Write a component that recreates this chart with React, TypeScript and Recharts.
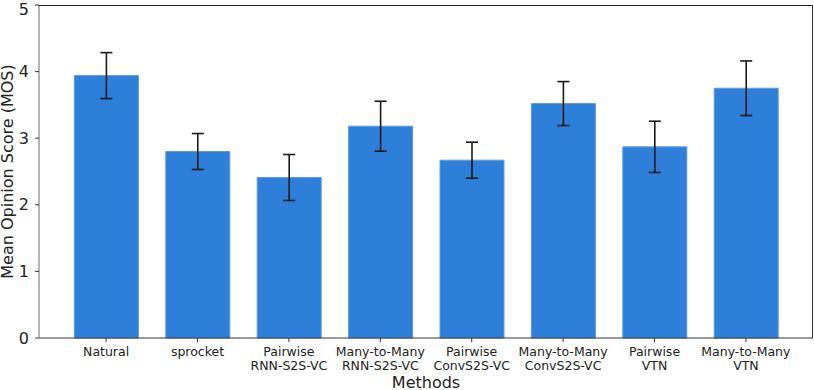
import React from 'react';
import { BarChart, Bar, XAxis, YAxis, ErrorBar } from 'recharts';

const methods = [
  'Natural',
  'sprocket',
  'Pairwise\nRNN-S2S-VC',
  'Many-to-Many\nRNN-S2S-VC',
  'Pairwise\nConvS2S-VC',
  'Many-to-Many\nConvS2S-VC',
  'Pairwise\nVTN',
  'Many-to-Many\nVTN',
];
const mosValues = [3.94, 2.8, 2.41, 3.18, 2.67, 3.52, 2.87, 3.75];
const mosErrors = [0.345, 0.27, 0.345, 0.375, 0.27, 0.33, 0.385, 0.41];
const yTicks = [0, 1, 2, 3, 4, 5];

const data = methods.map((m, i) => ({ method: m, mos: mosValues[i], err: mosErrors[i] }));

const FONT = '"DejaVu Sans", Verdana, sans-serif';

const XTick = (props: any) => {
  const { x, y, payload } = props;
  const lines = String(payload.value).split('\n');
  return (
    <text x={x} y={y} textAnchor="middle" fontFamily={FONT} fontSize={12.5} fill="#222">
      {lines.map((l, i) => (
        <tspan key={i} x={x} dy={i === 0 ? '0.71em' : '1.16em'}>{l}</tspan>
      ))}
    </text>
  );
};

export default function App() {
  return (
    <div style={{ position: 'absolute', left: 0, top: 0, width: 814, height: 390, background: '#fff' }}>
      <style>{'body{margin:0}'}</style>
      <BarChart
        width={814}
        height={390}
        data={data}
        margin={{ top: 5, right: 1, bottom: 0, left: 0 }}
        barCategoryGap={0}
      >
        <XAxis
          dataKey="method"
          interval={0}
          height={52}
          tickSize={4}
          tickMargin={5}
          padding={{ left: 21.4, right: 21.4 }}
          tick={<XTick />}
          stroke="#333"
          tickLine={{ stroke: '#333' }}
          label={(p: any) => (
            <text x={426} y={388} textAnchor="middle" fontFamily={FONT} fontSize={16} fill="#222">Methods</text>
          )}
        />
        <YAxis
          domain={[0, 5]}
          ticks={yTicks}
          width={39}
          tickSize={4}
          tickMargin={6}
          stroke="#666"
          tickLine={{ stroke: '#333' }}
          tick={{ fontFamily: FONT, fontSize: 16, fill: '#222' }}
          label={(p: any) => (
            <text
              x={13}
              y={171.5}
              transform="rotate(-90 13 171.5)"
              textAnchor="middle"
              fontFamily={FONT}
              fontSize={16}
              fill="#222"
            >
              Mean Opinion Score (MOS)
            </text>
          )}
        />
        <XAxis xAxisId="top" orientation="top" dataKey="method" hide />
        <Bar dataKey="mos" fill="#2e7fd9" stroke="#5a9be3" strokeWidth={1} barSize={64} isAnimationActive={false}>
          <ErrorBar dataKey="err" width={6} stroke="#1a1a1a" strokeWidth={1.6} />
        </Bar>
      </BarChart>
      <svg
        width={814}
        height={390}
        style={{ position: 'absolute', left: 0, top: 0, pointerEvents: 'none' }}
      >
        <line x1={39} y1={5.5} x2={813} y2={5.5} stroke="#222" strokeWidth={1} />
        <line x1={812.5} y1={5} x2={812.5} y2={338} stroke="#333" strokeWidth={1} />
      </svg>
    </div>
  );
}
